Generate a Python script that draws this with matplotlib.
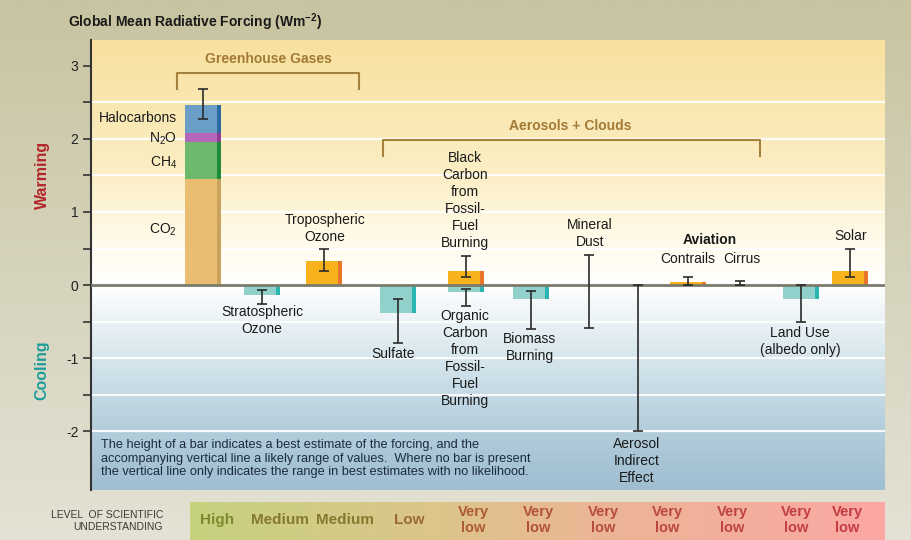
import numpy as np
import matplotlib.pyplot as plt
from matplotlib.colors import LinearSegmentedColormap

plt.rcParams['font.family'] = ['Liberation Sans', 'DejaVu Sans']
plt.rcParams['mathtext.fontset'] = 'custom'
plt.rcParams['mathtext.rm'] = 'Liberation Sans'
plt.rcParams['mathtext.it'] = 'Liberation Sans:italic'
plt.rcParams['mathtext.bf'] = 'Liberation Sans:bold'

# --- data (W m-2) ---
ghg_labels = ['CO$_2$', 'CH$_4$', 'N$_2$O', 'Halocarbons']
ghg_values = [1.45, 0.51, 0.12, 0.39]
ghg_range = [2.27, 2.68]

bar_names = ['Stratospheric\nOzone', 'Tropospheric\nOzone', 'Sulfate',
             'Black\nCarbon\nfrom\nFossil-\nFuel\nBurning',
             'Organic\nCarbon\nfrom\nFossil-\nFuel\nBurning',
             'Biomass\nBurning', 'Contrails', 'Land Use\n(albedo only)', 'Solar']
bar_values = [-0.14, 0.33, -0.38, 0.19, -0.10, -0.19, 0.04, -0.19, 0.19]
bar_low = [-0.26, 0.19, -0.79, 0.11, -0.29, -0.60, 0.00, -0.51, 0.11]
bar_high = [-0.07, 0.50, -0.19, 0.40, -0.05, -0.08, 0.11, 0.00, 0.50]

line_names = ['Mineral\nDust', 'Aerosol\nIndirect\nEffect', 'Cirrus']
line_low = [-0.59, -2.00, 0.00]
line_high = [0.41, 0.00, 0.05]

losu_labels = ['High', 'Medium', 'Medium', 'Low'] + ['Very\nlow'] * 7

note = ("The height of a bar indicates a best estimate of the forcing, and the\n"
        "accompanying vertical line a likely range of values.  Where no bar is present\n"
        "the vertical line only indicates the range in best estimates with no likelihood.")

# --- layout (x in pixel-like units of the panel) ---
ghg_x = 202.5
bar_x = [262, 324, 398, 466, 466, 531, 688, 800.5, 849.5]
line_x = [589, 638, 740]
losu_x = [217, 280, 345, 409, 473, 538, 603, 667, 732, 796, 847]
bar_w = 36
strip_w = 4

ghg_colors = ['#e9be73', '#6cb96c', '#b566b8', '#6b9ec6']
ghg_strip = ['#c9a25e', '#1d8a3c', '#8e3f92', '#2d6aa3']
warm_col, warm_strip = '#f7b21c', '#e8762a'
cool_col, cool_strip = '#92d0cc', '#2ab5b0'
losu_colors = ['#7d8a2c', '#85792e', '#85792e', '#9a6a32', '#ad5a38', '#b2523a',
               '#b64c3c', '#ba483e', '#be4440', '#c24042', '#c43c42']

fig = plt.figure(figsize=(9.11, 5.40), dpi=100)

# outer background
bg = fig.add_axes([0, 0, 1, 1], zorder=-10)
bg_cmap = LinearSegmentedColormap.from_list('bg', ['#e3e2d4', '#d6d3bc', '#c8c3a0'])
bg.imshow(np.linspace(0, 1, 256)[::-1].reshape(-1, 1), aspect='auto', cmap=bg_cmap,
          extent=[0, 1, 0, 1])
bg.axis('off')

ymin, ymax = -2.808, 3.356
ax = fig.add_axes([91 / 911, 50 / 540, 794 / 911, 450 / 540])
ax.set_xlim(91, 885)
ax.set_ylim(ymin, ymax)

# panel gradient: yellow (warming) -> white -> blue (cooling)
stops = [(-2.808, '#9fbed1'), (-2.0, '#b3cddb'), (-1.0, '#d6e6ed'), (-0.3, '#f3f7f9'),
         (0.0, '#ffffff'), (0.6, '#fffaea'), (1.5, '#fcefc6'), (3.356, '#f8e09e')]
pcmap = LinearSegmentedColormap.from_list(
    'panel', [((v - ymin) / (ymax - ymin), c) for v, c in stops])
ax.imshow(np.linspace(0, 1, 512)[::-1].reshape(-1, 1), aspect='auto', cmap=pcmap,
          extent=[91, 885, ymin, ymax], zorder=0)

for y in [-2, -1.5, -1, -0.5, 0.5, 1, 1.5, 2, 2.5]:
    ax.axhline(y, color='white', lw=1.6, alpha=0.9, zorder=1)
ax.axhline(0, color='#7b7b6c', lw=2, zorder=4)

# greenhouse gas stack
bottom = 0
for val, col, sc in zip(ghg_values, ghg_colors, ghg_strip):
    ax.bar(ghg_x, val, bar_w, bottom=bottom, color=col, zorder=3)
    ax.bar(ghg_x + bar_w / 2 - strip_w / 2, val, strip_w, bottom=bottom, color=sc, zorder=3)
    bottom += val
ax.errorbar(ghg_x, np.mean(ghg_range), yerr=np.diff(ghg_range) / 2, fmt='none',
            ecolor='#2b2b2b', elinewidth=1.2, capsize=3.3, capthick=1.2, zorder=5)

for lab, y in zip(ghg_labels, [0.75, 1.68, 2.0, 2.29]):
    ax.text(177, y, lab, ha='right', va='center', fontsize=10, color='#1a1a1a')

# single bars
for x, v, lo, hi in zip(bar_x, bar_values, bar_low, bar_high):
    col, sc = (warm_col, warm_strip) if v > 0 else (cool_col, cool_strip)
    ax.bar(x, v, bar_w, color=col, zorder=3)
    ax.bar(x + bar_w / 2 - strip_w / 2, v, strip_w, color=sc, zorder=3)
    ax.errorbar(x, (lo + hi) / 2, yerr=(hi - lo) / 2, fmt='none', ecolor='#2b2b2b',
                elinewidth=1.2, capsize=3.3, capthick=1.2, zorder=5)

# range-only lines
for x, lo, hi in zip(line_x, line_low, line_high):
    ax.errorbar(x, (lo + hi) / 2, yerr=(hi - lo) / 2, fmt='none', ecolor='#2b2b2b',
                elinewidth=1.2, capsize=3.3, capthick=1.2, zorder=5)

# labels
lab_kw = dict(ha='center', va='center', fontsize=10, color='#1a1a1a', linespacing=1.27)
ax.text(262, -0.48, bar_names[0], **lab_kw)
ax.text(325, 0.77, bar_names[1], **lab_kw)
ax.text(393, -0.95, bar_names[2], **lab_kw)
ax.text(465, 1.16, bar_names[3], **lab_kw)
ax.text(465, -1.01, bar_names[4], **lab_kw)
ax.text(530, -0.85, bar_names[5], **lab_kw)
ax.text(800, -0.78, bar_names[7], **lab_kw)
ax.text(851, 0.67, bar_names[8], **lab_kw)
ax.text(590, 0.70, line_names[0], **lab_kw)
ax.text(637, -2.41, line_names[1], **lab_kw)
ax.text(710, 0.62, 'Aviation', ha='center', va='center', fontsize=10,
        fontweight='bold', color='#1a1a1a')
ax.text(688, 0.36, bar_names[6], **lab_kw)
ax.text(742, 0.36, line_names[2], **lab_kw)

# group brackets
brk = '#a4823e'
ax.plot([177, 177, 359, 359], [2.68, 2.90, 2.90, 2.68], color=brk, lw=1.5, zorder=2)
ax.text(268, 3.10, 'Greenhouse Gases', ha='center', va='center', fontsize=10,
        fontweight='bold', color='#a27a36')
ax.plot([383, 383, 760, 760], [1.77, 1.99, 1.99, 1.77], color=brk, lw=1.5, zorder=2)
ax.text(570, 2.18, 'Aerosols + Clouds', ha='center', va='center', fontsize=10,
        fontweight='bold', color='#a27a36')

ax.text(101, -2.11, note, ha='left', va='top', fontsize=9.2, color='#1b2a42',
        linespacing=1.17)

# axes styling
for s in ['top', 'right', 'bottom']:
    ax.spines[s].set_visible(False)
ax.spines['left'].set_color('#333333')
ax.spines['left'].set_linewidth(1.5)
ax.set_xticks([])
ax.set_yticks([-2, -1, 0, 1, 2, 3])
ax.set_yticklabels(['-2', '-1', '0', '1', '2', '3'])
ax.set_yticks([-1.5, -0.5, 0.5, 1.5, 2.5], minor=True)
ax.tick_params(axis='y', which='both', length=6, width=1.2, color='#333333',
               labelsize=10, labelcolor='#222222', pad=3)

fig.text(68 / 911, 1 - 22 / 540, 'Global Mean Radiative Forcing (Wm$^{\\mathbf{-2}}$)',
         ha='left', va='center', fontsize=10, fontweight='bold', color='#1a1a1a')
fig.text(42 / 911, 1 - 175 / 540, 'Warming', rotation=90, ha='center', va='center',
         fontsize=11.5, fontweight='bold', color='#b3262a')
fig.text(42 / 911, 1 - 370 / 540, 'Cooling', rotation=90, ha='center', va='center',
         fontsize=11.5, fontweight='bold', color='#1c9d9a')

# level of scientific understanding strip
sx = fig.add_axes([190 / 911, 0, 695 / 911, 38 / 540])
scmap = LinearSegmentedColormap.from_list(
    'losu', [(0, '#c6d27e'), (0.35, '#dcc58a'), (0.6, '#ecb596'), (1, '#fba7a3')])
sx.imshow(np.linspace(0, 1, 256).reshape(1, -1), aspect='auto', cmap=scmap,
          extent=[190, 885, 0, 1])
sx.set_xlim(190, 885)
sx.set_ylim(0, 1)
sx.axis('off')
for x, lab, c in zip(losu_x, losu_labels, losu_colors):
    sx.text(x, 0.52, lab, ha='center', va='center',
            fontsize=11 if '\n' not in lab else 10.5,
            fontweight='bold', color=c, linespacing=1.2)

fig.text(163 / 911, 1 - 521 / 540, 'LEVEL  OF SCIENTIFIC\nUNDERSTANDING', ha='right',
         va='center', fontsize=7.5, color='#3a3a3a', linespacing=1.3)

fig.savefig('out.png', dpi=100)
